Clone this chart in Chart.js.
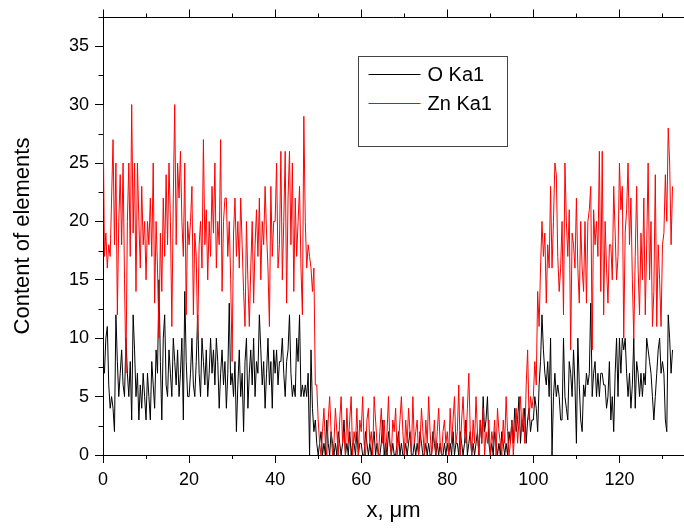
<!DOCTYPE html>
<html>
<head>
<meta charset="utf-8">
<script src="https://cdn.jsdelivr.net/npm/chart.js@4"></script>
<style>
  html, body { margin: 0; padding: 0; background: #fff; }
  #wrap { width: 684px; height: 529px; }
</style>
</head>
<body>
<div id="wrap"><canvas id="chart"></canvas></div>
<script>
// line scan, one reading every 1/3 um
const xStepUm = 1 / 3;

// O Ka1 counts (10 um per row)
const oKa1 = [
  8,7,10,11,6,4,5,4,2,12,8,5,7,9,6,5,10,7,5,8,3,12,9,5,7,3,6,4,7,5,
  3,7,5,3,8,6,4,9,7,15,8,3,10,12,6,5,9,7,5,10,8,6,9,5,7,10,3,14,8,5,
  5,7,10,6,5,8,12,7,5,10,8,6,9,5,7,10,7,9,6,10,8,4,7,9,6,8,4,7,13,6,
  7,5,8,2,6,9,5,7,2,8,10,4,7,9,6,10,5,8,7,12,9,6,8,4,7,10,6,8,4,9,
  7,9,6,8,8,10,7,5,8,9,12,7,5,6,5,10,8,12,5,6,5,6,5,7,0,9,4,2,3,1,
  0,1,2,0,1,0,3,1,0,2,1,0,1,0,2,1,0,1,3,0,1,0,2,0,1,1,0,2,0,1,
  1,0,0,2,1,0,1,0,1,2,0,1,0,0,1,3,0,1,0,2,1,0,1,0,0,1,2,0,1,0,
  0,1,0,1,2,0,0,1,0,1,0,2,1,0,0,1,0,1,0,0,2,1,0,1,0,1,0,0,1,0,
  1,0,1,0,2,0,1,1,0,2,1,0,1,3,0,1,2,0,1,0,1,2,0,3,1,5,2,3,5,1,
  0,1,0,2,1,0,1,0,2,1,0,1,0,2,1,3,1,4,2,3,5,1,3,2,4,1,3,4,2,3,
  3,5,4,2,6,8,12,9,7,6,8,5,10,0,5,7,5,6,5,3,3,10,5,4,3,8,7,5,9,6,
  1,10,6,3,2,6,5,7,6,7,13,5,7,8,5,7,5,7,7,6,6,4,5,8,3,5,2,7,10,5,
  10,7,10,9,10,7,5,7,4,6,10,4,8,7,5,7,5,7,6,10,9,8,7,5,3,5,7,9,10,7,
  8,7,3,2,12,10,7,9
];

// Zn Ka1 counts (10 um per row)
const znKa1 = [
  30,17,19,16,18,17,22,27,18,25,12,20,24,18,25,15,7,20,25,17,30,19,25,14,25,20,16,23,18,20,
  15,20,18,22,17,25,13,20,16,10,19,14,22,17,24,18,25,20,11,22,30,18,25,22,26,20,17,25,12,20,
  18,20,23,12,19,17,10,18,20,16,27,18,21,15,20,17,23,19,25,16,20,18,27,14,20,22,22,17,20,15,
  8,19,22,17,20,16,22,18,14,11,20,15,11,16,20,13,18,21,17,22,15,20,18,23,19,16,11,23,17,20,
  20,25,16,18,26,15,20,26,13,22,26,18,25,14,22,17,20,23,16,12,29,20,16,18,17,16,14,16,6,6,
  3,1,0,2,4,1,0,3,5,2,0,1,4,2,0,3,5,1,2,0,4,1,3,5,0,2,1,4,0,3,
  2,5,1,0,3,4,1,2,0,5,3,1,0,2,4,1,3,0,2,5,1,0,3,2,4,0,1,3,5,2,
  0,3,1,4,2,0,5,1,2,3,0,1,4,2,0,3,1,5,2,0,1,3,0,2,4,1,0,2,3,1,
  2,0,4,1,3,5,1,2,6,0,3,5,2,1,4,7,2,0,3,1,5,2,0,3,1,4,0,2,1,3,
  0,2,1,3,0,4,2,1,0,3,1,5,2,0,1,3,0,2,4,1,3,5,2,4,1,6,9,3,5,4,
  5,8,6,14,11,16,20,17,19,13,18,16,23,16,20,25,24,17,14,16,20,12,25,20,17,21,9,19,18,16,
  22,16,13,20,16,14,20,13,20,21,23,9,21,18,20,17,26,14,26,12,20,16,13,18,18,15,23,19,15,17,
  25,21,23,10,19,21,25,18,22,15,10,17,23,16,12,19,15,22,12,18,25,15,20,11,14,24,11,18,15,11,
  18,19,24,20,28,25,18,23
];

const xTickLabels = [0, 20, 40, 60, 80, 100, 120];
const xMinorTicks = [10, 30, 50, 70, 90, 110, 130];
const yTickLabels = [0, 5, 10, 15, 20, 25, 30, 35];
const yMinorTicks = [2.5, 7.5, 12.5, 17.5, 22.5, 27.5, 32.5, 37.5];

const FONT = 'Arial, "Liberation Sans", sans-serif';

// top axis, minor ticks and the boxed legend (Origin style)
const framePlugin = {
  id: 'frame',
  afterDraw(chart) {
    const { ctx, chartArea: a, scales: { x, y } } = chart;
    ctx.save();
    ctx.strokeStyle = '#000';
    ctx.lineWidth = 1;
    ctx.beginPath();
    const top = Math.round(a.top) + 0.5;
    ctx.moveTo(a.left, top);
    ctx.lineTo(a.right, top);
    xTickLabels.forEach(v => {
      const px = Math.round(x.getPixelForValue(v)) + 0.5;
      ctx.moveTo(px, top);
      ctx.lineTo(px, top - 8);
    });
    xMinorTicks.forEach(v => {
      const px = Math.round(x.getPixelForValue(v)) + 0.5;
      ctx.moveTo(px, top);
      ctx.lineTo(px, top - 4);
      ctx.moveTo(px, a.bottom);
      ctx.lineTo(px, a.bottom + 4);
    });
    yMinorTicks.forEach(v => {
      const py = Math.round(y.getPixelForValue(v)) + 0.5;
      ctx.moveTo(a.left, py);
      ctx.lineTo(a.left - 4.5, py);
    });
    ctx.stroke();

    // legend box
    const bx = a.left + 255.5, by = a.top + 39.5;
    ctx.strokeStyle = '#444';
    ctx.strokeRect(bx, by, 149, 90);
    ctx.font = '20px ' + FONT;
    ctx.textBaseline = 'middle';
    chart.data.datasets.forEach((ds, i) => {
      const ly = by + 18 + i * 29;
      ctx.strokeStyle = ds.borderColor;
      ctx.beginPath();
      ctx.moveTo(bx + 10, ly);
      ctx.lineTo(bx + 62, ly);
      ctx.stroke();
      ctx.fillStyle = '#000';
      ctx.fillText(ds.label, bx + 69, ly + 1);
    });
    ctx.restore();
  }
};

const toPoints = arr => arr.map((v, i) => ({ x: i * xStepUm, y: v }));

new Chart(document.getElementById('chart'), {
  type: 'line',
  data: {
    datasets: [
      { label: 'O Ka1', data: toPoints(oKa1), borderColor: '#000000', order: 1 },
      { label: 'Zn Ka1', data: toPoints(znKa1), borderColor: '#ff0000', order: 0 }
    ]
  },
  options: {
    responsive: true,
    maintainAspectRatio: false,
    animation: false,
    events: [],
    layout: { padding: { left: 0, top: 17, right: -13, bottom: 0 } },
    elements: {
      line: { borderWidth: 1, tension: 0, borderJoinStyle: 'bevel' },
      point: { radius: 0 }
    },
    plugins: { legend: { display: false }, tooltip: { enabled: false } },
    scales: {
      x: {
        type: 'linear',
        min: 0,
        max: 135,
        afterBuildTicks: s => { s.ticks = xTickLabels.map(v => ({ value: v })); },
        afterFit: s => { s.height = 74; },
        grid: { drawOnChartArea: false, color: '#000', tickLength: 8 },
        border: { color: '#000' },
        ticks: { color: '#000', font: { family: FONT, size: 18 }, padding: 6, maxRotation: 0, autoSkip: false },
        title: { display: true, text: 'x, \u03bcm', color: '#000', font: { family: FONT, size: 22 }, padding: { top: 0, bottom: 5 } }
      },
      y: {
        min: 0,
        max: 37.5,
        afterBuildTicks: s => { s.ticks = yTickLabels.map(v => ({ value: v })); },
        afterFit: s => { s.width = 103; },
        grid: { drawOnChartArea: false, color: '#000', tickLength: 8 },
        border: { color: '#000' },
        ticks: { color: '#000', font: { family: FONT, size: 18 }, padding: 6, autoSkip: false },
        title: { display: true, text: 'Content of elements', color: '#000', font: { family: FONT, size: 22 }, padding: { top: 10, bottom: 0 } }
      }
    }
  },
  plugins: [framePlugin]
});
</script>
</body>
</html>
